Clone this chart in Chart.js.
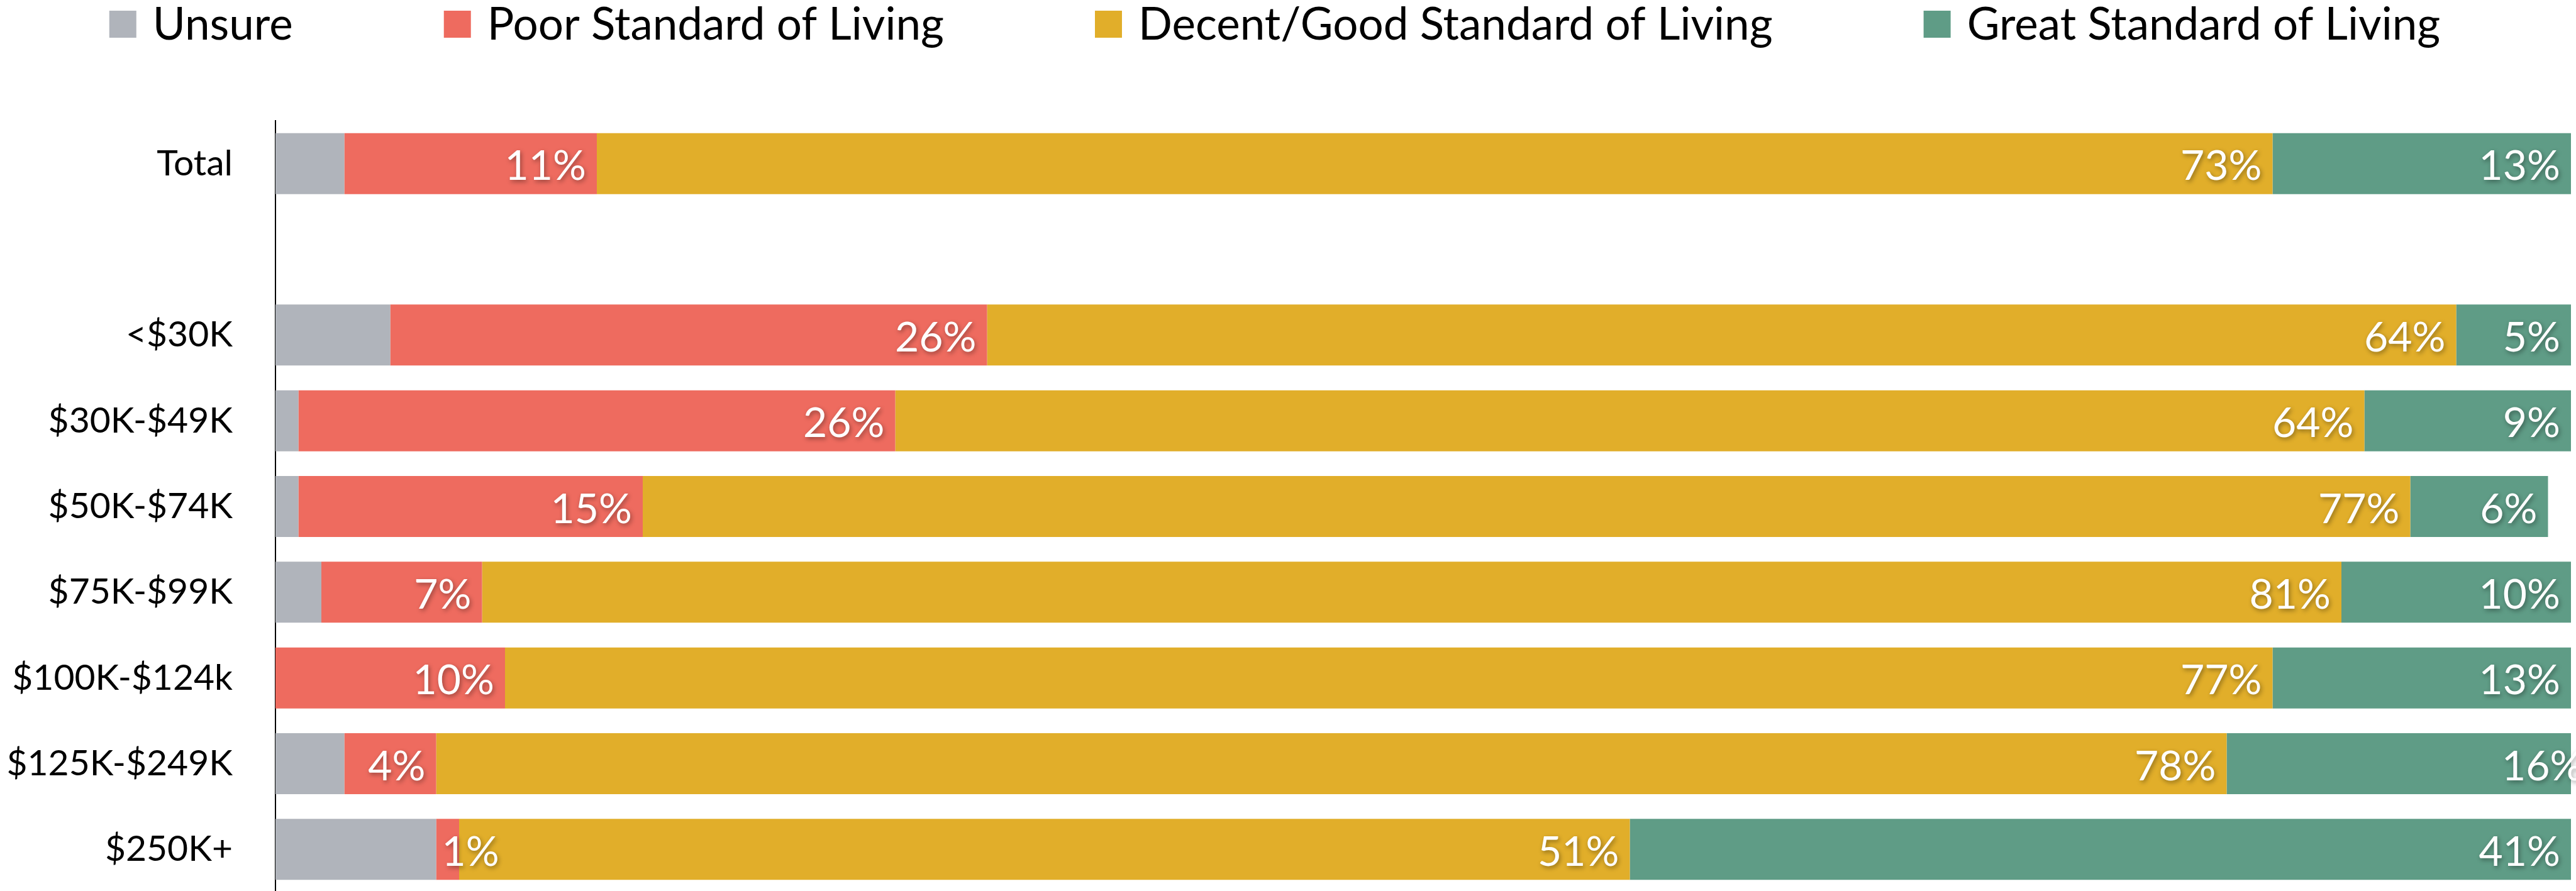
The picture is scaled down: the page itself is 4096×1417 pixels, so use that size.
<!DOCTYPE html>
<html>
<head>
<meta charset="utf-8">
<script src="https://cdn.jsdelivr.net/npm/chart.js@4.4.1/dist/chart.umd.min.js"></script>
<style>
    html, body { margin: 0; padding: 0; background: #fff; overflow: hidden; }
    #wrap { width: 4096px; height: 1417px; overflow: hidden; }
</style>
</head>
<body>
<div id="wrap"><canvas id="livingChart" width="4096" height="1419"></canvas></div>
<script>
// income groups (blank row separates Total from the brackets)
const categories = ['Total', '', '<$30K', '$30K-$49K', '$50K-$74K', '$75K-$99K', '$100K-$124k', '$125K-$249K', '$250K+'];

const unsure = [3, null, 5, 1, 1, 2, 0, 3, 7];
const poor = [11, null, 26, 26, 15, 7, 10, 4, 1];
const decent = [73, null, 64, 64, 77, 81, 77, 78, 51];
const great = [13, null, 5, 9, 6, 10, 13, 16, 41];

const seriesNames = ['Unsure', 'Poor Standard of Living', 'Decent/Good Standard of Living', 'Great Standard of Living'];
const seriesColors = ['#B0B4BB', '#EE6B5F', '#E1AE2A', '#5F9C86'];

const FONT = "Lato, 'Open Sans', sans-serif";

// white % labels at the inside end of each segment (not for Unsure)
const barLabels = {
    id: 'barLabels',
    afterDatasetsDraw(chart) {
        const ctx = chart.ctx;
        ctx.save();
        ctx.font = `66px ${FONT}`;
        ctx.fillStyle = '#fff';
        ctx.textAlign = 'right';
        ctx.textBaseline = 'alphabetic';
        ctx.shadowColor = 'rgba(0,0,0,0.38)';
        ctx.shadowBlur = 7;
        ctx.shadowOffsetX = 2;
        ctx.shadowOffsetY = 3;
        const asc = ctx.measureText('0').actualBoundingBoxAscent;
        for (let d = 1; d < chart.data.datasets.length; d++) {
            const meta = chart.getDatasetMeta(d);
            meta.data.forEach((bar, i) => {
                const v = chart.data.datasets[d].data[i];
                if (v === null || v === 0) return;
                const txt = v + '%';
                const w = ctx.measureText(txt).width;
                const start = Math.min(bar.x, bar.base);
                const end = Math.max(bar.x, bar.base);
                const x = Math.max(end - 17, start + 9 + w);
                ctx.fillText(txt, x, bar.y + asc / 2 + 2);
            });
        }
        ctx.restore();
    }
};

// legend drawn by hand so the spacing between items can be wide
const topLegend = {
    id: 'topLegend',
    afterDraw(chart) {
        const ctx = chart.ctx;
        ctx.save();
        ctx.font = `71px ${FONT}`;
        ctx.textBaseline = 'alphabetic';
        const box = 43, gapText = 26, gapItem = 240;
        const widths = seriesNames.map(n => box + gapText + ctx.measureText(n).width);
        const total = widths.reduce((a, b) => a + b, 0) + gapItem * (widths.length - 1);
        let x = 2027 - total / 2;
        const asc = ctx.measureText('U').actualBoundingBoxAscent;
        seriesNames.forEach((name, i) => {
            ctx.fillStyle = seriesColors[i];
            ctx.fillRect(x, 17, box, box);
            ctx.fillStyle = '#000';
            ctx.fillText(name, x + box + gapText, 37 + asc / 2);
            x += widths[i] + gapItem;
        });
        ctx.restore();
    }
};

const ctxLiving = document.getElementById('livingChart').getContext('2d');

new Chart(ctxLiving, {
    type: 'bar',
    data: {
        labels: categories,
        datasets: [unsure, poor, decent, great].map((values, i) => ({
            label: seriesNames[i],
            data: values,
            backgroundColor: seriesColors[i],
            borderWidth: 0,
            categoryPercentage: 1,
            barPercentage: 0.711
        }))
    },
    options: {
        indexAxis: 'y',
        responsive: false,
        animation: false,
        devicePixelRatio: 1,
        layout: { autoPadding: false, padding: { top: 192, right: 8, bottom: 0, left: 0 } },
        plugins: {
            legend: { display: false },
            tooltip: { enabled: false }
        },
        scales: {
            x: {
                stacked: true,
                min: 0,
                max: 100,
                display: false
            },
            y: {
                stacked: true,
                grid: { display: false, drawTicks: false },
                border: { display: true, color: '#000', width: 2 },
                ticks: {
                    color: '#000',
                    padding: 68,
                    autoSkip: false,
                    font: { family: FONT, size: 57 }
                },
                afterFit(scale) {
                    scale.width = 438;
                    // tick padding would otherwise reserve room under the last row
                    scale.paddingTop = 0;
                    scale.paddingBottom = 0;
                }
            }
        }
    },
    plugins: [barLabels, topLegend]
});
</script>
</body>
</html>
